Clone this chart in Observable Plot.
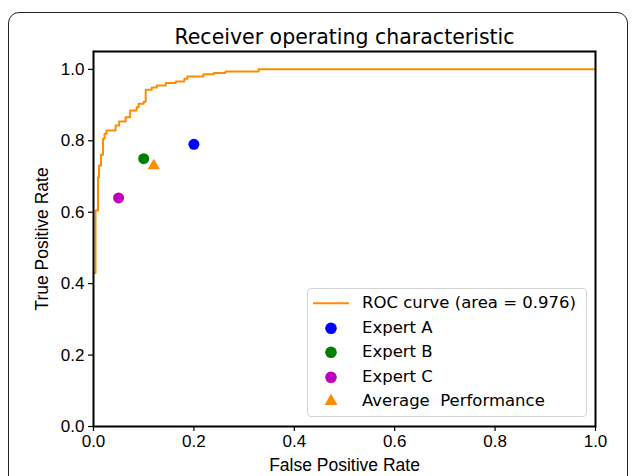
<!DOCTYPE html>
<html>
<head>
<meta charset="utf-8">
<script src="https://cdn.jsdelivr.net/npm/d3@7"></script>
<script src="https://cdn.jsdelivr.net/npm/@observablehq/plot@0.6"></script>
<style>
  html, body { margin: 0; padding: 0; background: #fff; }
  #wrap { position: relative; width: 632px; height: 476px; overflow: hidden; background: #fff; }
  #outer { position: absolute; left: 8px; top: 12px; width: 620px; height: 520px; border: 1.5px solid #222; border-radius: 11px; box-sizing: border-box; }
  #chart { position: absolute; left: 0; top: 0; }
  #legend { position: absolute; left: 307px; top: 288px; width: 280px; height: 129px; box-sizing: border-box;
            border: 1px solid #d4d4d4; border-radius: 4px; background: rgba(255,255,255,0.85);
            font-family: "DejaVu Sans", sans-serif; font-size: 16.5px; color: #000; padding-top: 2px; }
  .row { position: relative; height: 24.6px; line-height: 24.6px; }
  .row svg { position: absolute; left: 0; top: 0; }
  .row span { position: absolute; left: 54px; top: 0; white-space: pre; }
</style>
</head>
<body>
<div id="wrap">
  <div id="outer"></div>
  <div id="chart"></div>
  <div id="legend"></div>
</div>
<script>
// ROC curve vertices (false positive rate, true positive rate)
const fpr = [0, 0.004, 0.009, 0.011, 0.015, 0.019, 0.022, 0.026, 0.044, 0.051, 0.064, 0.073, 0.086, 0.090, 0.100, 0.104, 0.116, 0.126, 0.144, 0.164, 0.181, 0.187, 0.219, 0.240, 0.263, 0.329, 1.0];
const tpr = [0.43, 0.605, 0.698, 0.731, 0.761, 0.806, 0.820, 0.829, 0.843, 0.854, 0.866, 0.885, 0.894, 0.904, 0.909, 0.943, 0.949, 0.955, 0.962, 0.966, 0.974, 0.980, 0.986, 0.990, 0.994, 1.0, 1.0];

// Expert operating points
const expertNames = ["Expert A", "Expert B", "Expert C"];
const expertFpr = [0.20, 0.10, 0.05];
const expertTpr = [0.79, 0.75, 0.64];
const expertColors = ["#0000ff", "#008000", "#bf00bf"];

// Average performance
const avgName = "Average  Performance";
const avgFpr = [0.12];
const avgTpr = [0.73];

const rocLabel = "ROC curve (area = 0.976)";
const titleText = "Receiver operating characteristic";
const xLabel = "False Positive Rate";
const yLabel = "True Positive Rate";
const tickValues = [0, 0.2, 0.4, 0.6, 0.8, 1.0];

const orange = "#ff8c00";

const roc = fpr.map((x, i) => ({fpr: x, tpr: tpr[i]}));
const experts = expertNames.map((n, i) => ({name: n, fpr: expertFpr[i], tpr: expertTpr[i]}));
const avg = avgFpr.map((x, i) => ({name: avgName, fpr: x, tpr: avgTpr[i]}));

const tickFont = "'Liberation Sans', Arial, sans-serif";

const chart = Plot.plot({
  width: 632,
  height: 476,
  marginLeft: 93,
  marginRight: 37,
  marginTop: 51,
  marginBottom: 50,
  style: {background: "transparent", color: "#000", overflow: "visible"},
  x: {domain: [0, 1]},
  y: {domain: [0, 1.05]},
  color: {domain: expertNames, range: expertColors},
  marks: [
    Plot.line(roc, {x: "fpr", y: "tpr", curve: "step-after", stroke: orange, strokeWidth: 2}),
    Plot.dot(experts, {x: "fpr", y: "tpr", fill: "name", r: 5.5, stroke: null}),
    Plot.dot(avg, {x: "fpr", y: "tpr", fill: orange, symbol: "triangle", r: 4.6, stroke: null}),
    Plot.frame({stroke: "#000", strokeWidth: 2}),
    Plot.axisX({ticks: tickValues, tickFormat: d3.format(".1f"), tickSize: 5, tickPadding: 3,
                label: null, fontSize: 17, fontFamily: tickFont, stroke: "#000", strokeWidth: 1.2}),
    Plot.axisY({ticks: tickValues, tickFormat: d3.format(".1f"), tickSize: 5, tickPadding: 4,
                label: null, fontSize: 17, fontFamily: tickFont, stroke: "#000", strokeWidth: 1.2}),
    Plot.text([titleText], {frameAnchor: "top", lineAnchor: "middle", dy: -14, fontSize: 20.5,
                fontFamily: "'DejaVu Sans', sans-serif", fill: "#000"}),
    Plot.text([xLabel], {frameAnchor: "bottom", lineAnchor: "middle", textAnchor: "middle", dy: 39,
                fontSize: 17.5, fontFamily: tickFont, fill: "#000"}),
    Plot.text([yLabel], {frameAnchor: "left", lineAnchor: "middle", textAnchor: "middle", dx: -51, rotate: -90,
                fontSize: 17.5, fontFamily: tickFont, fill: "#000"})
  ]
});
document.getElementById("chart").appendChild(chart);

// Legend
const legend = d3.select("#legend");
const entries = [
  {label: rocLabel, kind: "line", color: orange},
  ...expertNames.map((n, i) => ({label: n, kind: "circle", color: expertColors[i]})),
  {label: avgName, kind: "triangle", color: orange}
];
entries.forEach(e => {
  const row = legend.append("div").attr("class", "row");
  const svg = row.append("svg").attr("width", 50).attr("height", 24.6);
  if (e.kind === "line") {
    svg.append("line").attr("x1", 5).attr("x2", 41).attr("y1", 12.3).attr("y2", 12.3)
      .attr("stroke", e.color).attr("stroke-width", 2);
  } else if (e.kind === "circle") {
    svg.append("circle").attr("cx", 23).attr("cy", 12.3).attr("r", 5.8).attr("fill", e.color);
  } else {
    svg.append("path").attr("transform", "translate(23,12.3)")
      .attr("d", d3.symbol(d3.symbolTriangle, Math.PI * 4.8 * 4.8)()).attr("fill", e.color);
  }
  row.append("span").text(e.label);
});
</script>
</body>
</html>
